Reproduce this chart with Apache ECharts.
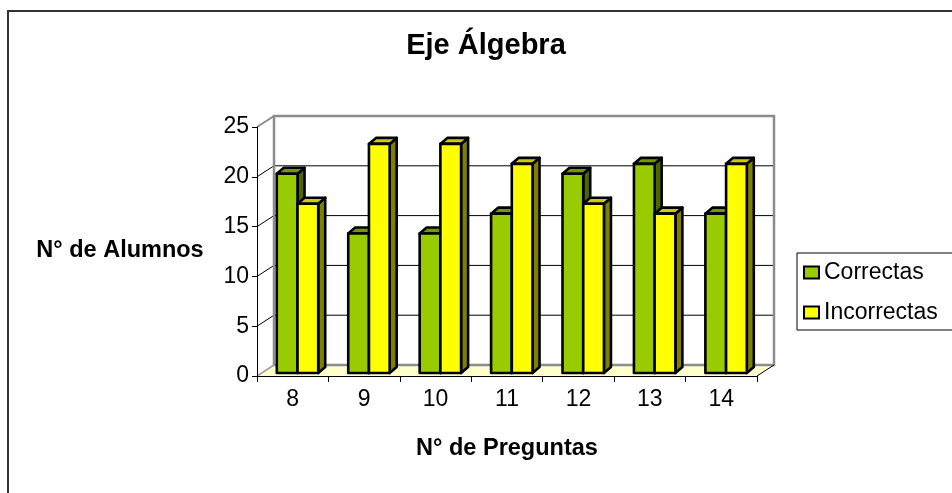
<!DOCTYPE html>
<html>
<head>
<meta charset="UTF-8">
<title>Eje Álgebra</title>
<script src="https://cdn.jsdelivr.net/npm/echarts@6/dist/echarts.min.js"></script>
<style>
  html, body { margin: 0; padding: 0; background: #fff; }
  #main { width: 952px; height: 493px; }
</style>
</head>
<body>
<div id="main"></div>
<script>
var preguntas = ['8', '9', '10', '11', '12', '13', '14'];
var correctas = [20, 14, 14, 16, 20, 21, 16];
var incorrectas = [17, 23, 23, 21, 17, 16, 21];
var yTicks = [0, 5, 10, 15, 20, 25];

var myChart = echarts.init(document.getElementById('main'));

// fake 3D: offset of the back wall, of the bar front and the bar depth
var DEPTH = [17, -11];
var BAR_FRONT = [4.8, -3];
var BAR_DEPTH = [7, -6];
var BAR_SHARE = 0.29;
var FONT = 'Liberation Sans, Arial, sans-serif';

function barRenderer(side, colors) {
  return function (params, api) {
    var cat = api.value(0), val = api.value(1);
    var base = api.coord([cat, 0]);
    var top = api.coord([cat, val]);
    var w = api.size([1, 0])[0] * BAR_SHARE;
    var x0 = base[0] + BAR_FRONT[0] + (side === 0 ? -w : 0);
    var x1 = x0 + w;
    var y0 = top[1] + BAR_FRONT[1];
    var y1 = base[1] + BAR_FRONT[1];
    var dx = BAR_DEPTH[0], dy = BAR_DEPTH[1];
    function st(fill) {
      return { fill: fill, stroke: '#000', lineWidth: 2.6, lineJoin: 'round' };
    }
    return {
      type: 'group',
      children: [
        { type: 'polygon', shape: { points: [[x1, y0], [x1 + dx, y0 + dy], [x1 + dx, y1 + dy], [x1, y1]] }, style: st(colors[1]) },
        { type: 'polygon', shape: { points: [[x0, y0], [x0 + dx, y0 + dy], [x1 + dx, y0 + dy], [x1, y0]] }, style: st(colors[2]) },
        { type: 'rect', shape: { x: x0, y: y0, width: w, height: y1 - y0 }, style: st(colors[0]) }
      ]
    };
  };
}

function frameRenderer(params, api) {
  var cs = params.coordSys;
  var L = cs.x, R = cs.x + cs.width;
  var maxV = yTicks[yTicks.length - 1];
  var B = api.coord([0, 0])[1];
  var T = api.coord([0, maxV])[1];
  var dx = DEPTH[0], dy = DEPTH[1];
  var kids = [];
  function ln(a, b, color, w) {
    kids.push({ type: 'line', shape: { x1: a[0], y1: a[1], x2: b[0], y2: b[1] }, style: { stroke: color, lineWidth: w } });
  }
  kids.push({ type: 'polygon', shape: { points: [[L, B], [R, B], [R + dx, B + dy], [L + dx, B + dy]] }, style: { fill: '#ffffcc' } });
  kids.push({ type: 'rect', shape: { x: L + dx, y: T + dy, width: R - L, height: B - T }, style: { fill: '#fff' } });
  yTicks.forEach(function (t) {
    if (t === 0 || t === maxV) return;
    var y = api.coord([0, t])[1];
    ln([L, y], [L + dx, y + dy], '#000', 1);
    ln([L + dx, y + dy], [R + dx, y + dy], '#000', 1);
  });
  kids.push({ type: 'rect', shape: { x: L + dx, y: T + dy, width: R - L, height: B - T }, style: { fill: null, stroke: '#8c8c8c', lineWidth: 2.5 } });
  ln([L, T], [L + dx, T + dy], '#8c8c8c', 2);
  ln([L, B], [L + dx, B + dy], '#a0a0a0', 1.5);
  ln([R, B], [R + dx, B + dy], '#000', 1);
  return { type: 'group', children: kids };
}

var option = {
  backgroundColor: '#fff',
  animation: false,
  graphic: [
    { type: 'rect', x: 8, y: 11, shape: { x: 0, y: 0, width: 1000, height: 1000 }, style: { fill: null, stroke: '#333', lineWidth: 2 }, silent: true },
    { type: 'text', x: 486, y: 46, style: { text: 'Eje Álgebra', fontSize: 29, fontWeight: 'bold', fontFamily: FONT, fill: '#000', align: 'center', verticalAlign: 'middle' } },
    { type: 'text', x: 120, y: 251, style: { text: 'N° de Alumnos', fontSize: 23.5, fontWeight: 'bold', fontFamily: FONT, fill: '#000', align: 'center', verticalAlign: 'middle' } },
    { type: 'text', x: 507, y: 449, style: { text: 'N° de Preguntas', fontSize: 23.5, fontWeight: 'bold', fontFamily: FONT, fill: '#000', align: 'center', verticalAlign: 'middle' } }
  ],
  legend: {
    data: ['Correctas', 'Incorrectas'],
    orient: 'vertical',
    left: 797,
    top: 253,
    padding: [8, 30, 6, 6],
    itemGap: 17,
    itemWidth: 15,
    itemHeight: 12,
    icon: 'rect',
    borderColor: '#000',
    borderWidth: 1,
    itemStyle: { borderColor: '#000', borderWidth: 2 },
    textStyle: { color: '#000', fontSize: 23, fontFamily: FONT }
  },
  grid: { left: 257, top: 127, width: 500, height: 249 },
  xAxis: {
    type: 'category',
    data: preguntas,
    z: 5,
    axisLine: { lineStyle: { color: '#000', width: 1 } },
    axisTick: { show: true, length: 6, lineStyle: { color: '#000' } },
    axisLabel: { color: '#000', fontSize: 23, fontFamily: FONT, margin: 12 },
    splitLine: { show: false }
  },
  yAxis: {
    type: 'value',
    min: 0,
    max: 25,
    interval: 5,
    z: 5,
    axisLine: { show: true, lineStyle: { color: '#000', width: 1 } },
    axisTick: { show: true, length: 5, lineStyle: { color: '#000' } },
    axisLabel: { color: '#000', fontSize: 23, fontFamily: FONT, margin: 8 },
    splitLine: { show: false }
  },
  series: [
    {
      name: 'marco',
      type: 'custom',
      z: 1,
      silent: true,
      renderItem: frameRenderer,
      data: [[0, 0]]
    },
    {
      name: 'Correctas',
      type: 'custom',
      z: 2,
      color: '#99cc00',
      renderItem: barRenderer(0, ['#99cc00', '#4d6600', '#739900']),
      data: correctas.map(function (v, i) { return [i, v]; })
    },
    {
      name: 'Incorrectas',
      type: 'custom',
      z: 2,
      color: '#ffff00',
      renderItem: barRenderer(1, ['#ffff00', '#808000', '#cccc00']),
      data: incorrectas.map(function (v, i) { return [i, v]; })
    }
  ]
};

myChart.setOption(option);
</script>
</body>
</html>
